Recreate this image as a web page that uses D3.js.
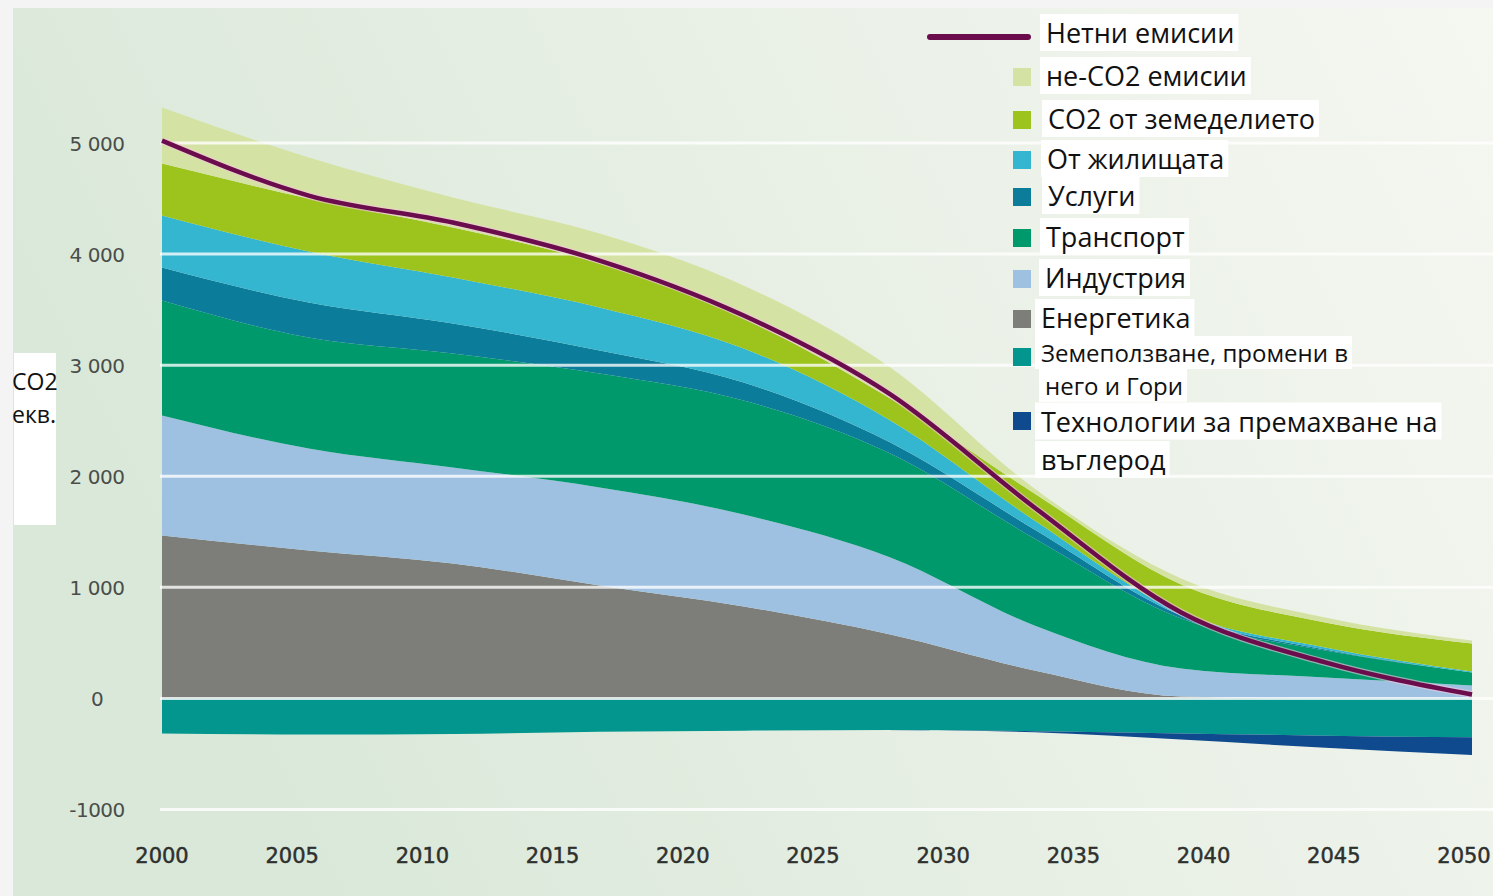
<!DOCTYPE html>
<html><head><meta charset="utf-8">
<script src="https://cdn.jsdelivr.net/npm/d3@7"></script>
<style>html,body{margin:0;padding:0;background:#f4f4f4;} svg{display:block;}</style>
</head><body><svg id="c" width="1493" height="896"></svg>
<script>
// ---- data (Mt CO2 eq.) ----
const years = [2000, 2005.6, 2011.1, 2016.7, 2022.2, 2027.8, 2033.3, 2038.9, 2044.4, 2050];
const energy      = [1467, 1332, 1215, 1017, 828, 576, 252, 18, 0, 0];
const industry    = [1080, 918, 864, 882, 828, 693, 405, 252, 189, 117];
const transport   = [1035, 999, 1026, 1026, 1026, 936, 783, 450, 243, 117];
const services    = [297, 315, 270, 207, 162, 99, 81, 27, 9, 0];
const residential = [468, 459, 414, 387, 306, 198, 81, 27, 18, 9];
const agriculture = [468, 477, 450, 396, 270, 198, 243, 252, 225, 252];
const nonCO2      = [504, 369, 270, 270, 297, 279, 45, 54, 45, 27];
const landUse     = [-315, -325, -320, -300, -290, -285, -295, -315, -335, -350];
const removal     = [0, 0, 0, 0, 0, 0, -10, -55, -110, -160];
const netEmissions = [5022, 4527, 4284, 3942, 3447, 2736, 1719, 774, 324, 36];

const xTickLabels = [2000, 2005, 2010, 2015, 2020, 2025, 2030, 2035, 2040, 2045, 2050];
const yTickValues = [5000, 4000, 3000, 2000, 1000, 0, -1000];
const yTickLabels = ["5 000", "4 000", "3 000", "2 000", "1 000", "0", "-1000"];

const positiveKeys = ["energy","industry","transport","services","residential","agriculture","nonCO2"];
const negativeKeys = ["landUse","removal"];
const seriesData = {energy, industry, transport, services, residential, agriculture, nonCO2, landUse, removal};
const colors = {
  energy: "#7d7e79", industry: "#9fc1e1", transport: "#00996c", services: "#0b7c9a",
  residential: "#35b6d0", agriculture: "#9dc41d", nonCO2: "#d4e3a3",
  landUse: "#03968f", removal: "#0e4a8d"
};
const legendItems = [
  {key: "nonCO2", lines: ["не-CO2 емисии"]},
  {key: "agriculture", lines: ["CO2 от земеделието"]},
  {key: "residential", lines: ["От жилищата"]},
  {key: "services", lines: ["Услуги"]},
  {key: "transport", lines: ["Транспорт"]},
  {key: "industry", lines: ["Индустрия"]},
  {key: "energy", lines: ["Енергетика"]},
  {key: "landUse", lines: ["Земеползване, промени в", "него и Гори"]},
  {key: "removal", lines: ["Технологии за премахване на", "въглерод"]}
];
const netLabel = "Нетни емисии";
const netColor = "#6b0d4d";

// ---- layout ----
const svg = d3.select("#c");
const W = 1493, H = 896;
const defs = svg.append("defs");
const bg = defs.append("linearGradient").attr("id","bg").attr("x1","0").attr("x2","1").attr("y1","0.3").attr("y2","0");
bg.append("stop").attr("offset","0").attr("stop-color","#d9e8d9");
bg.append("stop").attr("offset","0.45").attr("stop-color","#e7efe4");
bg.append("stop").attr("offset","1").attr("stop-color","#f5f7f1");
svg.append("rect").attr("x",13).attr("y",8).attr("width",W-13).attr("height",H-8).attr("fill","url(#bg)");

const x = d3.scaleLinear().domain([2000, 2050]).range([162, 1472]);
const xLab = d3.scaleLinear().domain([2000, 2050]).range([162, 1464]);
const y = d3.scaleLinear().domain([-1000, 5000]).range([809.5, 143]);

const rows = years.map((yr, i) => {
  const r = {year: yr};
  Object.keys(seriesData).forEach(k => r[k] = seriesData[k][i]);
  return r;
});
const stackedPos = d3.stack().keys(positiveKeys)(rows);
const stackedNeg = d3.stack().keys(negativeKeys)(rows);
const stacked = stackedPos.concat(stackedNeg);

const area = d3.area()
  .x(d => x(d.data.year)).y0(d => y(d[0])).y1(d => y(d[1]))
  .curve(d3.curveMonotoneX);

svg.append("g").selectAll("path").data(stacked).join("path")
  .attr("d", area).attr("fill", d => colors[d.key]);

// gridlines
svg.append("g").selectAll("line").data(yTickValues).join("line")
  .attr("x1", 160).attr("x2", W).attr("y1", d => y(d)).attr("y2", d => y(d))
  .attr("stroke", "#ffffff").attr("stroke-opacity", 0.78).attr("stroke-width", 3);

// net emissions line
const line = d3.line().x((d, i) => x(years[i])).y(d => y(d)).curve(d3.curveMonotoneX);
svg.append("path").datum(netEmissions).attr("d", line)
  .attr("fill","none").attr("stroke","#f3c6dc").attr("stroke-opacity",0.6).attr("stroke-width",7);
svg.append("path").datum(netEmissions).attr("d", line)
  .attr("fill","none").attr("stroke", netColor).attr("stroke-width",4.5).attr("stroke-linejoin","round");

// y tick labels
svg.append("g").selectAll("text").data(yTickValues).join("text")
  .attr("x", 97).attr("y", d => y(d) + 7.5).attr("text-anchor","middle")
  .attr("font-family","DejaVu Sans").attr("font-size",20).attr("fill","#4a4d4a")
  .attr("letter-spacing", "-0.5")
  .text((d, i) => yTickLabels[i]);

// x tick labels
svg.append("g").selectAll("text").data(xTickLabels).join("text")
  .attr("x", d => xLab(d)).attr("y", 863).attr("text-anchor","middle")
  .attr("font-family","DejaVu Sans").attr("font-size",21).attr("fill","#2e302e")
  .attr("stroke","#2e302e").attr("stroke-width",0.5)
  .text(d => d);

// y-axis title
svg.append("rect").attr("x",14).attr("y",353).attr("width",42).attr("height",172).attr("fill","#ffffff");
const yt = svg.append("text").attr("font-family","Open Sans").attr("font-size",23).attr("fill","#111");
yt.append("tspan").attr("x",12).attr("y",390).text("CO2");
yt.append("tspan").attr("x",12).attr("y",423).text("екв.");

// legend
const lg = svg.append("g").attr("font-family","Open Sans").attr("font-size",27).attr("fill","#111");
const rectLayer = lg.append("g");
const textLayer = lg.append("g");
function whiteText(tx, ty, str, fs) {
  const r = rectLayer.append("rect").attr("fill","#ffffff");
  const t = textLayer.append("text").attr("x", tx).attr("y", ty).text(str);
  if (fs) t.attr("font-size", fs);
  const b = t.node().getBBox();
  r.attr("x", tx - 6).attr("y", b.y).attr("width", b.width + 10).attr("height", b.height);
}
lg.append("line").attr("x1",930).attr("x2",1028).attr("y1",37).attr("y2",37)
  .attr("stroke",netColor).attr("stroke-width",6).attr("stroke-linecap","round");
whiteText(1046, 43, netLabel);

const rowY = [77, 120, 160, 197, 238, 279, 319, 357, 421];
const textX = [1046, 1048, 1047, 1048, 1046, 1045, 1041, 1041, 1041];
legendItems.forEach((it, i) => {
  const cy = rowY[i];
  lg.append("rect").attr("x",1013).attr("y",cy - 9).attr("width",18).attr("height",18).attr("fill",colors[it.key]);
  if (it.key === "landUse") {
    whiteText(textX[i], 362, it.lines[0], 24);
    whiteText(textX[i] + 4, 394.8, it.lines[1], 24);
  } else if (it.key === "removal") {
    whiteText(textX[i], 431.5, it.lines[0]);
    whiteText(textX[i], 470, it.lines[1]);
  } else {
    whiteText(textX[i], cy + 9, it.lines[0]);
  }
});
</script></body></html>
